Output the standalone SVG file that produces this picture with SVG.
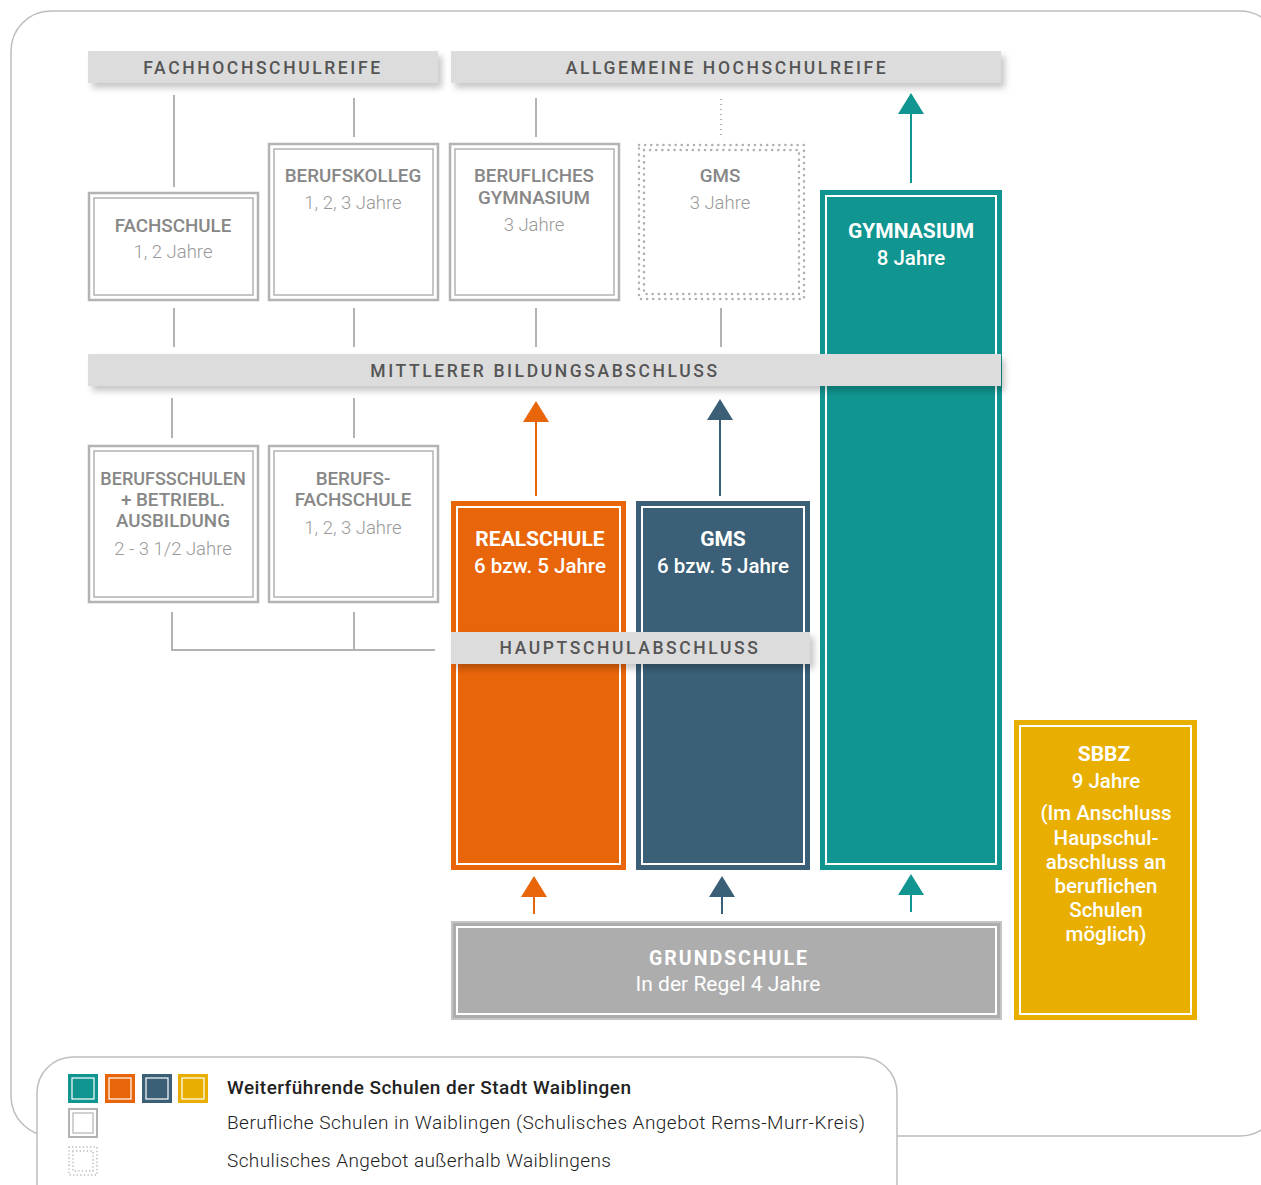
<svg xmlns="http://www.w3.org/2000/svg" width="1261" height="1185" viewBox="0 0 1261 1185">
<style>
.bar{fill:#dcdcdc;filter:url(#sh)}
.bart{font-family:Roboto,"Liberation Sans",sans-serif;font-weight:500;font-size:17.5px;letter-spacing:2.6px;fill:#555;text-anchor:middle}
.gbox{fill:#fff;stroke:#b3b3b3;stroke-width:2.5}
.gin{fill:none;stroke:#b3b3b3;stroke-width:1.5}
.dot{fill:none;stroke:#b0b0b0;stroke-width:2.5;stroke-dasharray:0.1 6;stroke-linecap:round}
.gt{font-family:Roboto,"Liberation Sans",sans-serif;font-weight:500;font-size:18.8px;fill:#878787;text-anchor:middle}
.gs{font-family:Roboto,"Liberation Sans",sans-serif;font-weight:300;font-size:18.5px;fill:#999;text-anchor:middle}
.ct{font-family:Roboto,"Liberation Sans",sans-serif;font-weight:700;font-size:21px;fill:#fff;text-anchor:middle}
.cs{font-family:Roboto,"Liberation Sans",sans-serif;font-weight:500;font-size:20.5px;fill:#fff;text-anchor:middle}
.wl{fill:none;stroke:#fff;stroke-width:2}
.ln{stroke:#b3b3b3;stroke-width:2;fill:none}
.lt{font-family:Roboto,"Liberation Sans",sans-serif;font-weight:300;font-size:19px;fill:#222}
</style>
<defs>
<filter id="sh" x="-5%" y="-30%" width="110%" height="180%">
<feDropShadow dx="4" dy="5" stdDeviation="3" flood-color="#000" flood-opacity="0.22"/>
</filter>
</defs>
<rect width="1261" height="1185" fill="#fff"/>
<rect x="11" y="11" width="1269" height="1125" rx="40" fill="none" stroke="#bdbdbd" stroke-width="1.5"/>

<g id="connectors">
<line class="ln" x1="174" y1="95" x2="174" y2="187"/>
<line class="ln" x1="354" y1="98" x2="354" y2="137"/>
<line class="ln" x1="536" y1="98" x2="536" y2="137"/>
<line x1="721" y1="99" x2="721" y2="137" stroke="#b0b0b0" stroke-width="2" stroke-dasharray="1 4"/>
<line class="ln" x1="174" y1="308" x2="174" y2="347"/>
<line class="ln" x1="354" y1="308" x2="354" y2="347"/>
<line class="ln" x1="536" y1="308" x2="536" y2="347"/>
<line class="ln" x1="721" y1="308" x2="721" y2="347"/>
<line class="ln" x1="172" y1="398" x2="172" y2="438"/>
<line class="ln" x1="354" y1="398" x2="354" y2="438"/>
<path class="ln" d="M172 612 V650 H435 M354 612 V650"/>
<line x1="536" y1="496" x2="536" y2="418" stroke="#e8650a" stroke-width="2"/>
<polygon points="536,401 549,422 523,422" fill="#e8650a"/>
<line x1="720" y1="496" x2="720" y2="416" stroke="#3a5f76" stroke-width="2"/>
<polygon points="720,399 733,420 707,420" fill="#3a5f76"/>
<line x1="911" y1="183" x2="911" y2="110" stroke="#109590" stroke-width="2"/>
<polygon points="911,93 924,114 898,114" fill="#109590"/>
<line x1="534" y1="914" x2="534" y2="894" stroke="#e8650a" stroke-width="2"/>
<polygon points="534,876 547,897 521,897" fill="#e8650a"/>
<line x1="722" y1="914" x2="722" y2="894" stroke="#3a5f76" stroke-width="2"/>
<polygon points="722,876 735,897 709,897" fill="#3a5f76"/>
<line x1="911" y1="912" x2="911" y2="892" stroke="#109590" stroke-width="2"/>
<polygon points="911,874 924,895 898,895" fill="#109590"/>
</g>

<g id="fachschule">
<rect class="gbox" x="89" y="193" width="169" height="107"/>
<rect class="gin" x="94" y="198" width="159" height="97"/>
<text class="gt" x="173" y="232">FACHSCHULE</text>
<text class="gs" x="173" y="258">1, 2 Jahre</text>
</g>
<g id="berufskolleg">
<rect class="gbox" x="269" y="144" width="169" height="156"/>
<rect class="gin" x="274" y="149" width="159" height="146"/>
<text class="gt" x="353" y="182">BERUFSKOLLEG</text>
<text class="gs" x="353" y="209">1, 2, 3 Jahre</text>
</g>
<g id="berufliches-gymnasium">
<rect class="gbox" x="450" y="144" width="169" height="156"/>
<rect class="gin" x="455" y="149" width="159" height="146"/>
<text class="gt" x="534" y="182">BERUFLICHES</text>
<text class="gt" x="534" y="204">GYMNASIUM</text>
<text class="gs" x="534" y="231">3 Jahre</text>
</g>
<g id="gms-oben">
<rect class="dot" x="639" y="145" width="165" height="154"/>
<rect class="dot" x="644" y="150" width="155" height="144"/>
<text class="gt" x="720" y="182">GMS</text>
<text class="gs" x="720" y="209">3 Jahre</text>
</g>
<g id="berufsschulen">
<rect class="gbox" x="89" y="446" width="169" height="156"/>
<rect class="gin" x="94" y="451" width="159" height="146"/>
<text class="gt" x="173" y="485" style="font-size:18px">BERUFSSCHULEN</text>
<text class="gt" x="173" y="506">+ BETRIEBL.</text>
<text class="gt" x="173" y="527">AUSBILDUNG</text>
<text class="gs" x="173" y="555">2 - 3 1/2 Jahre</text>
</g>
<g id="berufsfachschule">
<rect class="gbox" x="269" y="446" width="169" height="156"/>
<rect class="gin" x="274" y="451" width="159" height="146"/>
<text class="gt" x="353" y="485">BERUFS-</text>
<text class="gt" x="353" y="506">FACHSCHULE</text>
<text class="gs" x="353" y="534">1, 2, 3 Jahre</text>
</g>

<g id="realschule">
<rect x="452" y="502" width="173" height="367" fill="#e8650a" stroke="#e8650a" stroke-width="2"/>
<rect class="wl" x="457" y="507" width="163" height="357"/>
<text class="ct" x="540" y="546">REALSCHULE</text>
<text class="cs" x="540" y="573">6 bzw. 5 Jahre</text>
</g>
<g id="gms">
<rect x="637" y="502" width="172" height="367" fill="#3a5f76" stroke="#3a5f76" stroke-width="2"/>
<rect class="wl" x="642" y="507" width="162" height="357"/>
<text class="ct" x="723" y="546">GMS</text>
<text class="cs" x="723" y="573">6 bzw. 5 Jahre</text>
</g>
<g id="gymnasium">
<rect x="821" y="191" width="180" height="678" fill="#109590" stroke="#109590" stroke-width="2"/>
<rect class="wl" x="826" y="196" width="170" height="668"/>
<text class="ct" x="911" y="238">GYMNASIUM</text>
<text class="cs" x="911" y="265">8 Jahre</text>
</g>
<g id="sbbz">
<rect x="1015" y="721" width="181" height="298" fill="#e8ae00" stroke="#e8ae00" stroke-width="2"/>
<rect class="wl" x="1020" y="726" width="171" height="288"/>
<text class="ct" x="1104" y="761">SBBZ</text>
<text class="cs" x="1106" y="788">9 Jahre</text>
<text class="cs" x="1106" y="820">(Im Anschluss</text>
<text class="cs" x="1106" y="845">Haupschul-</text>
<text class="cs" x="1106" y="869">abschluss an</text>
<text class="cs" x="1106" y="893">beruflichen</text>
<text class="cs" x="1106" y="917">Schulen</text>
<text class="cs" x="1106" y="941">möglich)</text>
</g>
<g id="grundschule">
<rect x="452" y="922" width="549" height="97" fill="#adadad" stroke="#c4c4c4" stroke-width="2"/>
<rect class="wl" x="457" y="927" width="539" height="87"/>
<text class="ct" x="729" y="965" style="letter-spacing:2px;font-size:19.5px">GRUNDSCHULE</text>
<text class="cs" x="728" y="991" style="font-weight:400;font-size:21px">In der Regel 4 Jahre</text>
</g>

<g id="fachhochschulreife">
<rect class="bar" x="88" y="51" width="350" height="32"/>
<text class="bart" x="263" y="74">FACHHOCHSCHULREIFE</text>
</g>
<g id="allgemeine-hochschulreife">
<rect class="bar" x="451" y="51" width="550" height="32"/>
<text class="bart" x="727" y="74">ALLGEMEINE HOCHSCHULREIFE</text>
</g>
<g id="mittlerer-bildungsabschluss">
<rect class="bar" x="88" y="354" width="913" height="32"/>
<text class="bart" x="545" y="377">MITTLERER BILDUNGSABSCHLUSS</text>
</g>
<g id="hauptschulabschluss">
<rect class="bar" x="451" y="632" width="359" height="32"/>
<text class="bart" x="630" y="654">HAUPTSCHULABSCHLUSS</text>
</g>

<g id="legend">
<rect x="37" y="1057" width="860" height="200" rx="36" fill="#fff" stroke="#bdbdbd" stroke-width="1.5"/>
<rect x="69" y="1075" width="28" height="27" fill="#109590" stroke="#109590" stroke-width="2"/>
<rect x="72" y="1078" width="22" height="21" fill="none" stroke="#fff" stroke-width="1.2"/>
<rect x="106" y="1075" width="28" height="27" fill="#e8650a" stroke="#e8650a" stroke-width="2"/>
<rect x="109" y="1078" width="22" height="21" fill="none" stroke="#fff" stroke-width="1.2"/>
<rect x="143" y="1075" width="28" height="27" fill="#3a5f76" stroke="#3a5f76" stroke-width="2"/>
<rect x="146" y="1078" width="22" height="21" fill="none" stroke="#fff" stroke-width="1.2"/>
<rect x="179" y="1075" width="28" height="27" fill="#e8ae00" stroke="#e8ae00" stroke-width="2"/>
<rect x="182" y="1078" width="22" height="21" fill="none" stroke="#fff" stroke-width="1.2"/>
<rect x="69" y="1109" width="28" height="28" fill="#fff" stroke="#b3b3b3" stroke-width="2"/>
<rect x="73" y="1113" width="20" height="20" fill="none" stroke="#b3b3b3" stroke-width="1.2"/>
<rect x="69" y="1147" width="28" height="28" fill="none" stroke="#b0b0b0" stroke-width="1.5" stroke-dasharray="0.1 3.5" stroke-linecap="round"/>
<rect x="73" y="1151" width="20" height="20" fill="none" stroke="#b0b0b0" stroke-width="1.5" stroke-dasharray="0.1 3.5" stroke-linecap="round"/>
<text class="lt" x="227" y="1094" style="font-weight:500" textLength="404">Weiterführende Schulen der Stadt Waiblingen</text>
<text class="lt" x="227" y="1129" textLength="638">Berufliche Schulen in Waiblingen (Schulisches Angebot Rems-Murr-Kreis)</text>
<text class="lt" x="227" y="1167" textLength="384">Schulisches Angebot außerhalb Waiblingens</text>
</g>
</svg>
